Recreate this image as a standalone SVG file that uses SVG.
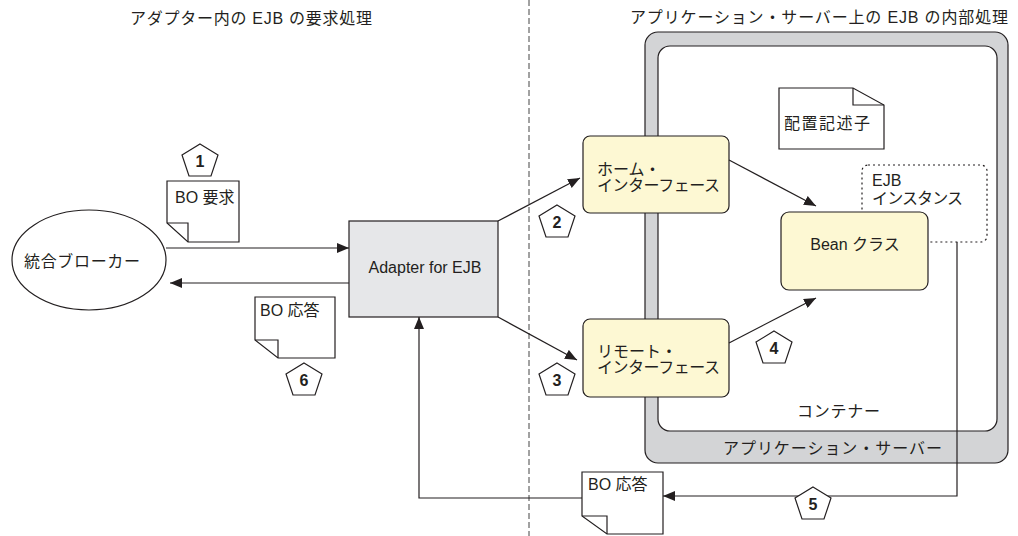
<svg xmlns="http://www.w3.org/2000/svg" width="1018" height="536" viewBox="0 0 1018 536">
<style>
text{font-family:"Liberation Sans","Noto Sans CJK JP",sans-serif;font-size:16px;fill:#231f20}
.num{font-weight:bold;text-anchor:middle}
.ln{fill:none;stroke:#231f20;stroke-width:1.2}
.doc{fill:#fff;stroke:#231f20;stroke-width:1.2}
.pent{fill:#fff;stroke:#231f20;stroke-width:1.2}
.yel{fill:#fdf8d3;stroke:#231f20;stroke-width:1.2}
</style>
<defs>
<marker id="ah" viewBox="0 0 12 10" refX="12" refY="5" markerWidth="12" markerHeight="10" markerUnits="userSpaceOnUse" orient="auto">
<path d="M0,0 L12,5 L0,10 Z" fill="#231f20"/>
</marker>
<polygon id="pg" class="pent" points="0,0 18,11 11,32 -11,32 -18,11"/>
</defs>
<rect width="1018" height="536" fill="#fff"/>

<text x="130" y="24" textLength="242" lengthAdjust="spacing">アダプター内の EJB の要求処理</text>
<text x="630" y="23" textLength="378" lengthAdjust="spacing">アプリケーション・サーバー上の EJB の内部処理</text>

<line x1="529" y1="0" x2="529" y2="536" stroke="#444" stroke-width="1" stroke-dasharray="6 3"/>

<g id="appserver">
<rect x="645" y="32" width="363" height="431" rx="13" fill="#d3d4d6" stroke="#231f20" stroke-width="1.2"/>
<text x="723" y="454" textLength="219" lengthAdjust="spacing">アプリケーション・サーバー</text>
</g>
<g id="container">
<rect x="658" y="46" width="339" height="385" rx="12" fill="#fff" stroke="#231f20" stroke-width="1.2"/>
<text x="797" y="417" textLength="83" lengthAdjust="spacing">コンテナー</text>
</g>

<g id="broker">
<ellipse cx="89" cy="260" rx="77" ry="50" fill="#fff" stroke="#231f20" stroke-width="1.2"/>
<text x="24" y="267" textLength="116" lengthAdjust="spacing">統合ブローカー</text>
</g>

<g id="adapter">
<rect x="349" y="221" width="149" height="96" fill="#e6e7e9" stroke="#231f20" stroke-width="1.2"/>
<text x="425" y="273" text-anchor="middle">Adapter for EJB</text>
</g>

<g id="home">
<rect x="583" y="136" width="146" height="77" rx="7" class="yel"/>
<text x="597" y="175">ホーム・</text>
<text x="597" y="191" textLength="123" lengthAdjust="spacing">インターフェース</text>
</g>

<g id="remote">
<rect x="583" y="319" width="146" height="78" rx="7" class="yel"/>
<text x="597" y="357">リモート・</text>
<text x="597" y="373" textLength="123" lengthAdjust="spacing">インターフェース</text>
</g>

<g id="ejbinstance">
<rect x="862" y="165" width="125" height="77" rx="6" fill="none" stroke="#231f20" stroke-width="1.2" stroke-dasharray="2 3"/>
<text x="872" y="186">EJB</text>
<text x="872" y="204" textLength="91" lengthAdjust="spacing">インスタンス</text>
</g>

<g id="bean">
<rect x="781" y="212" width="147" height="78" rx="8" class="yel"/>
<text x="855" y="250" text-anchor="middle">Bean クラス</text>
</g>

<g id="descriptor">
<path class="doc" d="M779,88 H853 L884,105 V149 H779 Z"/>
<path class="ln" d="M853,88 V105 H884"/>
<text x="784" y="129" textLength="86" lengthAdjust="spacing">配置記述子</text>
</g>

<g id="bo-request">
<path class="doc" d="M167,181 H239 V242 H188 L167,223 Z"/>
<path class="ln" d="M167,223 H188 V242"/>
<text x="175" y="203">BO 要求</text>
</g>

<g id="bo-response-1">
<path class="doc" d="M255,297 H335 V358 H278 L255,340 Z"/>
<path class="ln" d="M255,340 H278 V358"/>
<text x="260" y="316">BO 応答</text>
</g>

<g id="bo-response-2">
<path class="doc" d="M582,472 H663 V534 H607 L582,516 Z"/>
<path class="ln" d="M582,516 H607 V534"/>
<text x="588" y="490">BO 応答</text>
</g>

<g id="connectors">
<path class="ln" d="M166,248 H349" marker-end="url(#ah)"/>
<path class="ln" d="M349,283 H170" marker-end="url(#ah)"/>
<path class="ln" d="M498,221 L580,178" marker-end="url(#ah)"/>
<path class="ln" d="M498,317 L577,360" marker-end="url(#ah)"/>
<path class="ln" d="M729,160 L816,206" marker-end="url(#ah)"/>
<path class="ln" d="M729,343 L816,298" marker-end="url(#ah)"/>
<path class="ln" d="M957,242 V496 H663" marker-end="url(#ah)"/>
<path class="ln" d="M582,498 H419 V317" marker-end="url(#ah)"/>
</g>

<g id="step1"><use href="#pg" x="200" y="144"/><text class="num" x="200" y="167">1</text></g>
<g id="step2"><use href="#pg" x="557" y="205"/><text class="num" x="557" y="228">2</text></g>
<g id="step3"><use href="#pg" x="557" y="363"/><text class="num" x="557" y="386">3</text></g>
<g id="step4"><use href="#pg" x="774" y="331"/><text class="num" x="774" y="354">4</text></g>
<g id="step5"><use href="#pg" x="813" y="487"/><text class="num" x="813" y="510">5</text></g>
<g id="step6"><use href="#pg" x="304" y="363"/><text class="num" x="304" y="386">6</text></g>
</svg>
